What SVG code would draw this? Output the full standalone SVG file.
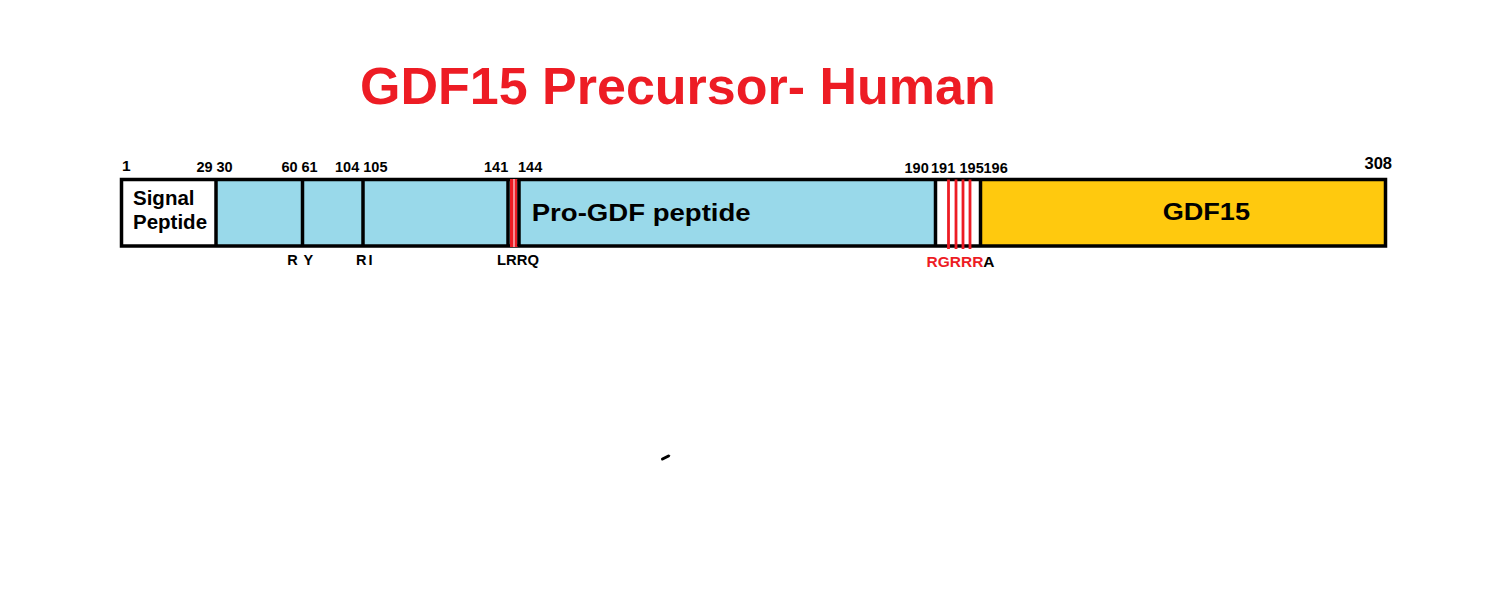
<svg xmlns="http://www.w3.org/2000/svg" width="1500" height="599" viewBox="0 0 1500 599">
<style>
text{font-family:"Liberation Sans",Arial,Helvetica,sans-serif;font-weight:bold;fill:#000}
.num{font-size:14.5px}
.res{font-size:14.5px}
.lbl{font-size:24px}
.div{stroke:#000;stroke-width:3.5}
.red{stroke:#ED1C24;stroke-width:2.8}
.title{font-size:52px;fill:#ED1C24}
</style>
<rect width="1500" height="599" fill="#fff"/>
<g id="title"><text class="title" x="360" y="104">GDF15 Precursor- Human</text></g>

<g id="signal-peptide">
<rect x="121.5" y="179.5" width="94.5" height="66.5" fill="#fff"/>
<text x="133" y="205" font-size="20.5">Signal</text>
<text x="133" y="229" font-size="20.5">Peptide</text>
</g>
<g id="pro-gdf-peptide">
<rect x="216" y="179.5" width="719.5" height="66.5" fill="#99D9EA"/>
<text class="lbl" x="531.7" y="220.7" textLength="219" lengthAdjust="spacingAndGlyphs">Pro-GDF peptide</text>
</g>
<g id="cleavage-site">
<rect x="935.5" y="179.5" width="45" height="66.5" fill="#fff"/>
</g>
<g id="gdf15">
<rect x="980.5" y="179.5" width="405" height="66.5" fill="#FFC90E"/>
<text class="lbl" x="1162.7" y="220.3" textLength="87.3" lengthAdjust="spacingAndGlyphs">GDF15</text>
</g>

<g id="connectors">
<rect x="121.5" y="179.5" width="1264" height="66.5" fill="none" stroke="#000" stroke-width="3.5"/>
<line class="div" x1="216" y1="179.5" x2="216" y2="246"/>
<line class="div" x1="302.5" y1="179.5" x2="302.5" y2="246"/>
<line class="div" x1="363" y1="179.5" x2="363" y2="246"/>
<line class="div" x1="508" y1="179.5" x2="508" y2="246"/>
<rect x="510" y="179" width="7.5" height="68" fill="#ED1C24"/>
<line x1="514" y1="179" x2="514" y2="247" stroke="#fff" stroke-width="1"/>
<line class="div" x1="519" y1="179.5" x2="519" y2="246"/>
<line class="div" x1="935.5" y1="179.5" x2="935.5" y2="246"/>
<line class="div" x1="980.5" y1="179.5" x2="980.5" y2="246"/>
<line class="red" x1="948.5" y1="179.5" x2="948.5" y2="249"/>
<line class="red" x1="956" y1="179.5" x2="956" y2="249"/>
<line class="red" x1="963" y1="179.5" x2="963" y2="249"/>
<line class="red" x1="970" y1="179.5" x2="970" y2="249"/>
</g>

<g id="positions">
<text x="122" y="170.5" font-size="15.5">1</text>
<text class="num" x="196.5" y="171.5">29</text>
<text class="num" x="216.5" y="171.5">30</text>
<text class="num" x="281.5" y="171.5">60</text>
<text class="num" x="301.5" y="171.5">61</text>
<text class="num" x="335" y="171.5">104</text>
<text class="num" x="363.3" y="171.5">105</text>
<text class="num" x="484" y="171.5">141</text>
<text class="num" x="518" y="171.5">144</text>
<text class="num" x="904.5" y="173">190</text>
<text class="num" x="931" y="173">191</text>
<text class="num" x="959.5" y="173">195</text>
<text class="num" x="983.5" y="173">196</text>
<text x="1364.5" y="168.5" font-size="16.5">308</text>
</g>

<g id="residues">
<text class="res" x="287.3" y="264.5">R</text>
<text class="res" x="303.5" y="264.5">Y</text>
<text class="res" x="356" y="264.5">R</text>
<text class="res" x="368.5" y="264.5">I</text>
<text x="497" y="264.5" font-size="14.8">LRRQ</text>
<text x="926.5" y="267" font-size="15.5"><tspan fill="#ED1C24">RGRRR</tspan>A</text>
</g>

<line x1="662.5" y1="459" x2="668.5" y2="456" stroke="#000" stroke-width="3" stroke-linecap="round"/>
</svg>
